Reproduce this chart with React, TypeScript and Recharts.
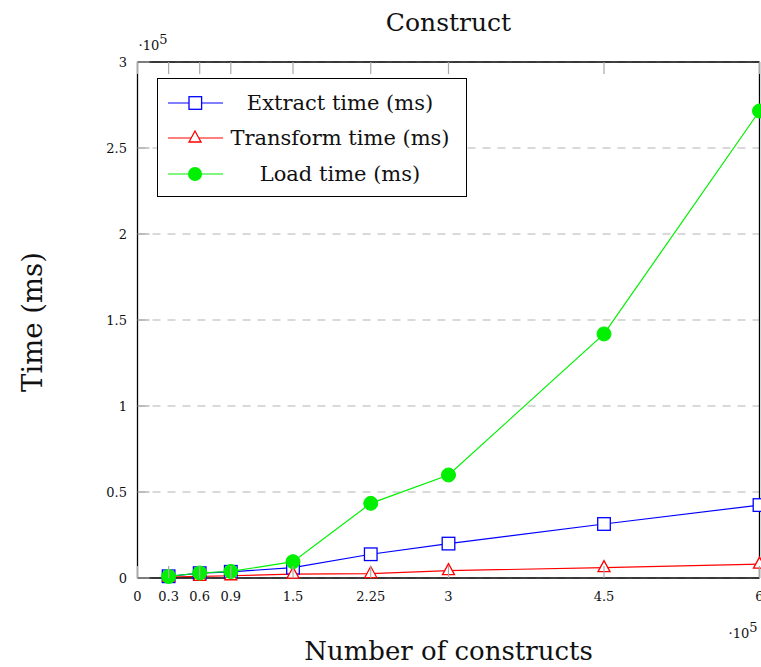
import React from 'react';
import { LineChart, Line, XAxis, YAxis, CartesianGrid, Legend } from 'recharts';

// Values are in units of 10^5
const constructs = [0.3, 0.6, 0.9, 1.5, 2.25, 3, 4.5, 6];
const extractTime = [0.01, 0.028, 0.036, 0.06, 0.138, 0.2, 0.314, 0.424];
const transformTime = [0.005, 0.01, 0.013, 0.022, 0.026, 0.043, 0.06, 0.081];
const loadTime = [0.009, 0.029, 0.038, 0.095, 0.434, 0.599, 1.419, 2.715];

const xTicks = [0, 0.3, 0.6, 0.9, 1.5, 2.25, 3, 4.5, 6];
const yTicks = [0, 0.5, 1, 1.5, 2, 2.5, 3];
const seriesNames = ['Extract time (ms)', 'Transform time (ms)', 'Load time (ms)'];

const data = constructs.map((x, i) => ({
  x,
  extract: extractTime[i],
  transform: transformTime[i],
  load: loadTime[i],
}));

const FONT = '"DejaVu Serif", serif';
const GRAY = '#a9a9a9';
const TICK_LEN = 12;
const BLUE = '#0000ff';
const RED = '#ff0000';
const GREEN = '#00f000';

const SquareDot = (p: any) => (
  <rect key={`sq-${p.index}`} x={p.cx - 6.3} y={p.cy - 6.3} width={12.6} height={12.6} fill="#fff" stroke={BLUE} strokeWidth={1.3} />
);
const TriangleDot = (p: any) => (
  <polygon
    key={`tr-${p.index}`}
    points={`${p.cx},${p.cy - 7} ${p.cx - 6},${p.cy + 4} ${p.cx + 6},${p.cy + 4}`}
    fill="#fff"
    stroke={RED}
    strokeWidth={1.3}
  />
);
const CircleDot = (p: any) => <circle key={`ci-${p.index}`} cx={p.cx} cy={p.cy} r={7} fill={GREEN} stroke={GREEN} />;

const BottomTick = (p: any) => (
  <g>
    <line x1={p.x} y1={p.y} x2={p.x} y2={p.y - TICK_LEN} stroke={GRAY} strokeWidth={1.2} />
    <text x={p.x} y={p.y + 23} textAnchor="middle" fontFamily={FONT} fontSize={13} fill="#111">
      {String(p.payload.value)}
    </text>
  </g>
);
const TopTick = (p: any) => (
  <line x1={p.x} y1={p.y} x2={p.x} y2={p.y + TICK_LEN} stroke={GRAY} strokeWidth={1.2} />
);
const LeftTick = (p: any) => (
  <g>
    <line x1={p.x} y1={p.y} x2={p.x + TICK_LEN} y2={p.y} stroke={GRAY} strokeWidth={1.2} />
    <text x={p.x - 10.5} y={p.y + 4.7} textAnchor="end" fontFamily={FONT} fontSize={13} fill="#111">
      {String(p.payload.value)}
    </text>
  </g>
);
const RightTick = (p: any) => (
  <line x1={p.x} y1={p.y} x2={p.x - TICK_LEN} y2={p.y} stroke={GRAY} strokeWidth={1.2} />
);

const TopLabel = (p: any) => {
  const vb = p.viewBox;
  const base = vb.y + vb.height;
  return (
    <g fontFamily={FONT} fill="#111">
      <text x={vb.x + vb.width / 2} y={base - 31} textAnchor="middle" fontSize={25}>
        Construct
      </text>
      <text x={vb.x + 1} y={base - 12} fontSize={13}>
        ·10<tspan dy={-6}>5</tspan>
      </text>
    </g>
  );
};
const BottomLabel = (p: any) => {
  const vb = p.viewBox;
  return (
    <g fontFamily={FONT} fill="#111">
      <text x={vb.x + vb.width / 2} y={vb.y + 82} textAnchor="middle" fontSize={26}>
        Number of constructs
      </text>
      <text x={vb.x + vb.width - 31} y={vb.y + 60} fontSize={13}>
        ·10<tspan dy={-6}>5</tspan>
      </text>
    </g>
  );
};
const LeftLabel = (p: any) => {
  const vb = p.viewBox;
  const cx = vb.x + 41;
  const cy = vb.y + vb.height / 2 + 2;
  return (
    <text x={cx} y={cy} transform={`rotate(-90, ${cx}, ${cy})`} textAnchor="middle" fontFamily={FONT} fontSize={27.5} fill="#111">
      Time (ms)
    </text>
  );
};

const markerFor = (i: number) => {
  if (i === 0) return <rect x={31} y={11.7} width={12.6} height={12.6} fill="#fff" stroke={BLUE} strokeWidth={1.3} />;
  if (i === 1) return <polygon points="37,11 31,22 43,22" fill="#fff" stroke={RED} strokeWidth={1.3} />;
  return <circle cx={37} cy={18} r={7} fill={GREEN} />;
};
const colors = [BLUE, RED, GREEN];
const rowCenters = [24, 59, 95];

const LegendBox = () => (
  <div
    style={{
      position: 'relative',
      width: 310,
      height: 119,
      border: '1.3px solid #000',
      boxSizing: 'border-box',
      background: '#fff',
      fontFamily: FONT,
      fontSize: 21,
      color: '#111',
    }}
  >
    {seriesNames.map((name, i) => (
      <div key={name} style={{ position: 'absolute', left: 0, top: rowCenters[i] - 18, width: 310, height: 36 }}>
        <svg width={70} height={36} style={{ position: 'absolute', left: 0, top: 0 }}>
          <line x1={10} y1={18} x2={65} y2={18} stroke={colors[i]} strokeWidth={1.2} />
          {markerFor(i)}
        </svg>
        <div
          style={{
            position: 'absolute',
            left: 70,
            width: 224,
            top: 0,
            height: 36,
            lineHeight: '36px',
            textAlign: 'center',
            whiteSpace: 'nowrap',
          }}
        >
          {name}
        </div>
      </div>
    ))}
  </div>
);

export default function App() {
  return (
    <div style={{ position: 'absolute', left: 0, top: 0, width: 761, height: 667, background: '#fff' }}>
      <LineChart width={761} height={667} data={data} margin={{ top: 61, right: 0.5, bottom: 0, left: 0.5 }}>
        <CartesianGrid horizontal vertical={false} stroke="#b4b4b4" strokeWidth={1.2} strokeDasharray="8 7" />
        <XAxis
          dataKey="x"
          type="number"
          domain={[0, 6]}
          ticks={xTicks}
          height={89}
          tickSize={0}
          tickMargin={0}
          tickLine={false}
          interval={0}
          tick={BottomTick}
          axisLine={{ stroke: '#000', strokeWidth: 1.3 }}
          label={BottomLabel}
        />
        <XAxis
          xAxisId="top"
          orientation="top"
          dataKey="x"
          type="number"
          domain={[0, 6]}
          ticks={xTicks}
          height={1}
          tickSize={0}
          tickMargin={0}
          tickLine={false}
          interval={0}
          tick={TopTick}
          axisLine={{ stroke: '#000', strokeWidth: 1.3 }}
          label={TopLabel}
        />
        <YAxis
          type="number"
          domain={[0, 3]}
          ticks={yTicks}
          width={137}
          tickSize={0}
          tickMargin={0}
          tickLine={false}
          interval={0}
          tick={LeftTick}
          axisLine={{ stroke: '#000', strokeWidth: 1.3 }}
          label={LeftLabel}
        />
        <YAxis
          yAxisId="right"
          orientation="right"
          type="number"
          domain={[0, 3]}
          ticks={yTicks}
          width={1}
          tickSize={0}
          tickMargin={0}
          tickLine={false}
          interval={0}
          tick={RightTick}
          axisLine={{ stroke: '#000', strokeWidth: 1.3 }}
        />
        <Legend
          layout="horizontal"
          verticalAlign="middle"
          align="center"
          width={310}
          height={119}
          wrapperStyle={{ left: 157, top: 78, width: 310, height: 119 }}
          content={LegendBox}
        />
        <Line dataKey="extract" name={seriesNames[0]} stroke={BLUE} strokeWidth={1.2} dot={SquareDot} activeDot={false} isAnimationActive={false} />
        <Line dataKey="transform" name={seriesNames[1]} stroke={RED} strokeWidth={1.2} dot={TriangleDot} activeDot={false} isAnimationActive={false} />
        <Line dataKey="load" name={seriesNames[2]} stroke={GREEN} strokeWidth={1.2} dot={CircleDot} activeDot={false} isAnimationActive={false} />
      </LineChart>
    </div>
  );
}
